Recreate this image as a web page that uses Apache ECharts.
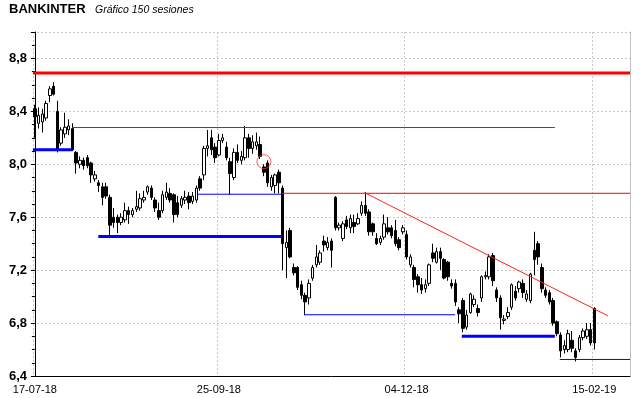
<!DOCTYPE html>
<html>
<head>
<meta charset="utf-8">
<title>BANKINTER</title>
<script src="https://cdn.jsdelivr.net/npm/echarts@6.0.0/dist/echarts.min.js"></script>
<style>
html, body { margin: 0; padding: 0; background: #fff; }
#chart { width: 640px; height: 398px; }
</style>
</head>
<body>
<div id="chart"></div>
<script>
// sesiones: [apertura, cierre, minimo, maximo]
var ohlc = [
  [8.42,8.36,8.20,8.45],[8.31,8.37,8.27,8.43],[8.32,8.38,8.24,8.42],[8.35,8.46,8.33,8.48],
  [8.52,8.57,8.47,8.59],[8.59,8.53,8.52,8.62],[8.40,8.11,8.09,8.48],[8.16,8.26,8.14,8.28],
  [8.23,8.28,8.20,8.39],[8.26,8.29,8.22,8.34],[8.27,8.11,8.10,8.31],[8.09,8.01,7.93,8.10],
  [8.00,8.03,7.97,8.06],[8.03,7.99,7.96,8.05],[8.05,7.99,7.97,8.07],[8.01,7.92,7.86,8.02],
  [7.89,7.92,7.87,7.95],[7.86,7.84,7.79,7.88],[7.83,7.75,7.69,7.86],[7.83,7.76,7.74,7.86],
  [7.75,7.54,7.45,7.77],[7.60,7.56,7.52,7.67],[7.60,7.56,7.48,7.62],[7.56,7.60,7.54,7.63],
  [7.58,7.65,7.56,7.71],[7.65,7.62,7.55,7.68],[7.62,7.65,7.60,7.67],[7.66,7.68,7.64,7.80],
  [7.67,7.74,7.65,7.78],[7.73,7.75,7.71,7.80],[7.79,7.83,7.77,7.84],[7.82,7.75,7.73,7.84],
  [7.73,7.67,7.64,7.75],[7.65,7.60,7.58,7.71],[7.65,7.77,7.63,7.80],[7.75,7.79,7.73,7.86],
  [7.78,7.73,7.71,7.82],[7.77,7.62,7.56,7.78],[7.71,7.62,7.60,7.76],[7.69,7.74,7.67,7.76],
  [7.73,7.75,7.70,7.80],[7.76,7.71,7.66,7.79],[7.72,7.76,7.70,7.79],[7.73,7.82,7.71,7.84],
  [7.89,7.82,7.80,7.91],[7.92,8.12,7.88,8.14],[8.12,8.14,8.06,8.26],[8.20,8.11,8.07,8.26],
  [8.13,8.05,8.01,8.16],[8.07,8.18,8.06,8.23],[8.18,8.20,8.16,8.23],[8.13,8.05,8.03,8.17],
  [8.02,7.93,7.77,8.05],[7.90,8.09,7.88,8.12],[8.09,8.03,8.01,8.15],[8.03,8.06,8.00,8.10],
  [8.05,8.20,8.03,8.29],[8.20,8.12,8.05,8.23],[8.12,8.17,8.08,8.22],[8.14,8.17,8.11,8.24],
  [8.15,8.06,8.04,8.21],[7.98,7.94,7.91,8.00],[8.01,7.86,7.83,8.03],[7.83,7.90,7.80,7.92],
  [7.84,7.92,7.78,7.93],[7.94,7.86,7.78,7.96],[7.82,7.40,7.20,7.84],[7.37,7.41,7.14,7.50],
  [7.50,7.30,7.29,7.52],[7.22,7.18,7.16,7.25],[7.22,7.07,7.05,7.23],[7.09,7.01,6.98,7.12],
  [7.01,6.96,6.86,7.03],[6.99,7.10,6.94,7.13],[7.14,7.22,7.12,7.24],[7.24,7.30,7.22,7.39],
  [7.26,7.33,7.24,7.35],[7.42,7.39,7.34,7.46],[7.37,7.41,7.35,7.45],[7.42,7.35,7.22,7.44],
  [7.75,7.52,7.50,7.76],[7.52,7.54,7.50,7.56],[7.44,7.55,7.42,7.57],[7.58,7.53,7.51,7.61],
  [7.52,7.59,7.48,7.62],[7.56,7.53,7.48,7.62],[7.55,7.59,7.54,7.63],[7.63,7.69,7.61,7.72],
  [7.69,7.63,7.61,7.79],[7.64,7.49,7.46,7.66],[7.55,7.49,7.46,7.56],[7.44,7.40,7.39,7.48],
  [7.41,7.44,7.39,7.46],[7.45,7.55,7.43,7.62],[7.52,7.49,7.47,7.60],[7.52,7.46,7.44,7.54],
  [7.50,7.40,7.38,7.58],[7.43,7.37,7.35,7.45],[7.49,7.52,7.47,7.54],[7.47,7.30,7.28,7.50],
  [7.24,7.30,7.22,7.32],[7.22,7.13,7.07,7.24],[7.15,7.09,7.03,7.17],[7.09,7.05,7.02,7.14],
  [7.06,7.09,7.03,7.13],[7.10,7.24,7.08,7.25],[7.33,7.29,7.26,7.40],[7.26,7.34,7.25,7.37],
  [7.34,7.29,7.20,7.37],[7.28,7.14,7.13,7.29],[7.26,7.15,7.12,7.27],[7.10,7.08,7.06,7.13],
  [7.10,6.96,6.93,7.13],[6.90,6.87,6.80,6.92],[6.97,6.76,6.73,6.99],[6.77,6.86,6.75,6.90],
  [6.88,7.02,6.87,7.03],[6.94,6.98,6.92,7.01],[6.91,6.88,6.85,6.94],[6.99,7.15,6.96,7.16],
  [7.15,7.16,7.13,7.19],[7.15,7.30,7.13,7.32],[7.31,7.12,7.08,7.33],[7.05,6.99,6.96,7.07],
  [6.99,6.84,6.75,7.01],[6.82,6.83,6.79,6.86],[6.85,6.88,6.83,6.92],[6.92,7.09,6.90,7.10],
  [7.04,6.99,6.97,7.08],[7.06,7.11,7.03,7.12],[7.10,7.03,6.99,7.13],[6.98,7.02,6.96,7.05],
  [6.97,7.17,6.95,7.18],[7.35,7.28,7.16,7.49],[7.40,7.30,7.24,7.42],[7.22,7.06,7.03,7.25],
  [7.05,7.01,6.99,7.07],[7.03,6.96,6.94,7.05],[6.97,6.80,6.78,6.99],[6.81,6.72,6.70,6.82],
  [6.71,6.59,6.54,6.73],[6.60,6.63,6.57,6.67],[6.60,6.72,6.58,6.75],[6.67,6.61,6.58,6.74],
  [6.59,6.54,6.51,6.61],[6.60,6.69,6.58,6.71],[6.69,6.74,6.67,6.76],[6.70,6.75,6.68,6.80],
  [6.75,6.65,6.63,6.80],[6.91,6.65,6.60,6.92]
];

// huecos vacios a la derecha de la ultima sesion
var padSlots = 9;

// etiquetas del eje x (indice de sesion -> fecha)
var tickIndex = [0, 49, 99, 149];
var tickLabels = ['17-07-18', '25-09-18', '04-12-18', '15-02-19'];

// niveles y lineas dibujadas: [sesion, precio]
var resistMax    = [[-0.5, 8.69], [158.5, 8.69]];
var resistHigh   = [[10, 8.278], [138.5, 8.278]];
var resistMid    = [[65.8, 7.781], [158.5, 7.781]];
var supportStart = [[-0.5, 8.11], [10, 8.11]];
var supportA     = [[16.9, 7.455], [65.8, 7.455]];
var supportAThin = [[43.4, 7.774], [65.8, 7.774]];
var supportB     = [[71.7, 6.863], [111.9, 6.863]];
var supportC     = [[113.7, 6.70], [138.5, 6.70]];
var supportD     = [[139.8, 6.525], [158.5, 6.525]];
var trendLine    = [[87.8, 7.786], [152.6, 6.855]];
var circleMark   = [[61, 8.02]];

(function () {
	var myChart = echarts.init(document.getElementById('chart'));

	var sessions = [];
	for (var i = 0; i < ohlc.length + padSlots; i++) {
		var k = tickIndex.indexOf(i);
		sessions.push(k >= 0 ? tickLabels[k] : String(i + 1));
	}
	function isTick(idx) {
		return tickIndex.indexOf(idx) >= 0;
	}

	function segment(data, color, width) {
		return {
			type: 'line',
			xAxisIndex: 1,
			yAxisIndex: 0,
			data: data,
			symbol: 'none',
			silent: true,
			z: 5,
			lineStyle: { color: color, width: width }
		};
	}

	var option = {
		animation: false,
		backgroundColor: '#fff',
		title: [{
			text: 'BANKINTER',
			left: 9,
			top: 3,
			padding: 0,
			textStyle: { fontFamily: 'Liberation Sans', fontWeight: 'bold', fontSize: 13, color: '#000' }
		}, {
			text: 'Gráfico 150 sesiones',
			left: 95,
			top: 5,
			padding: 0,
			textStyle: { fontFamily: 'Liberation Sans', fontStyle: 'italic', fontWeight: 'normal', fontSize: 10.5, color: '#000' }
		}],
		grid: {
			left: 33,
			right: 10,
			top: 32,
			bottom: 22
		},
		xAxis: [{
			type: 'category',
			data: sessions,
			boundaryGap: true,
			axisLine: { lineStyle: { color: '#000', width: 1 } },
			axisTick: {
				interval: function (idx) { return isTick(idx); },
				alignWithLabel: true,
				length: 5,
				lineStyle: { color: '#000' }
			},
			axisLabel: {
				interval: function (idx) { return isTick(idx); },
				color: '#000',
				fontFamily: 'Liberation Sans',
				fontSize: 11,
				margin: 8
			},
			splitLine: {
				show: true,
				interval: function (idx) { return isTick(idx); },
				lineStyle: { color: '#c8c8c8', type: [2, 2] }
			}
		}, {
			type: 'value',
			min: -0.5,
			max: ohlc.length + padSlots - 0.5,
			show: false
		}],
		yAxis: [{
			type: 'value',
			min: 6.4,
			max: 9.0,
			interval: 0.4,
			axisLine: { show: true, lineStyle: { color: '#000' } },
			axisTick: { show: true, length: 4, lineStyle: { color: '#000' } },
			minorTick: { show: true, splitNumber: 4, length: 3, lineStyle: { color: '#000' } },
			axisLabel: {
				color: '#000',
				fontFamily: 'Liberation Sans',
				fontWeight: 'bold',
				fontSize: 13,
				margin: 6,
				showMaxLabel: false,
				formatter: function (v) { return v > 8.9 ? '' : v.toFixed(1).replace('.', ','); }
			},
			splitLine: { lineStyle: { color: '#c8c8c8', type: [2, 2] } }
		}, {
			type: 'value',
			position: 'right',
			min: 6.4,
			max: 9.0,
			axisLine: { show: true, lineStyle: { color: '#c0c0c0' } },
			axisTick: { show: false },
			axisLabel: { show: false },
			splitLine: { show: false }
		}],
		series: [{
			type: 'candlestick',
			data: ohlc,
			barWidth: 3,
			itemStyle: {
				color: '#fff',
				color0: '#000',
				borderColor: '#000',
				borderColor0: '#000',
				borderWidth: 1
			}
		},
		segment(resistMax, '#ff0000', 3),
		segment(resistHigh, '#ff0000', 1),
		segment(resistMid, '#ff0000', 1),
		segment(supportStart, '#0000ff', 3),
		segment(supportA, '#0000ff', 3),
		segment(supportAThin, '#0000ff', 1),
		segment(supportB, '#0000ff', 1),
		segment(supportC, '#0000ff', 3),
		segment(supportD, '#0000ff', 1),
		segment(trendLine, '#ff2020', 1),
		{
			type: 'scatter',
			xAxisIndex: 1,
			yAxisIndex: 0,
			data: circleMark,
			symbol: 'circle',
			symbolSize: 14,
			silent: true,
			z: 6,
			itemStyle: { color: 'transparent', borderColor: '#ff3030', borderWidth: 1 }
		}]
	};

	myChart.setOption(option);
	window.addEventListener('resize', function () {
		myChart.resize();
	});
})();
</script>
</body>
</html>
